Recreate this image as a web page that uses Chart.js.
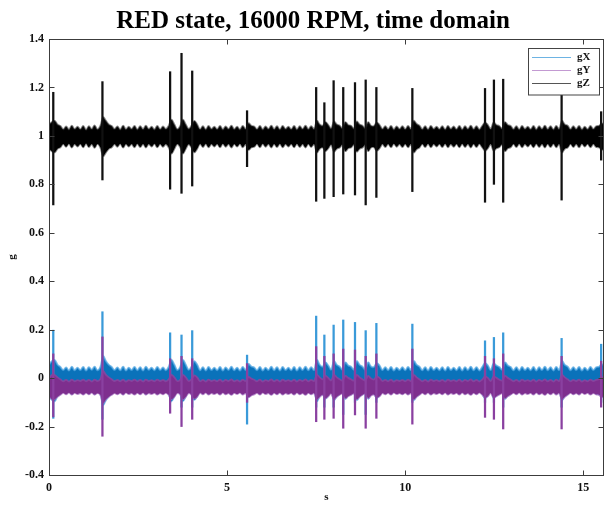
<!DOCTYPE html>
<html>
<head>
<meta charset="utf-8">
<script src="https://cdn.jsdelivr.net/npm/chart.js@4/dist/chart.umd.min.js"></script>
<style>
  html, body { margin: 0; padding: 0; background: #fff; }
  canvas { display: block; }
</style>
</head>
<body>
<canvas id="c" width="604" height="513"></canvas>
<script>
// ---------------- DATA ----------------
const chartTitle = 'RED state, 16000 RPM, time domain';
const xTitle = 's';
const yTitle = 'g';
const seriesNames = ['gX', 'gY', 'gZ'];

const xTickValues = [0, 5, 10, 15];
const xTickLabels = ['0', '5', '10', '15'];
const yTickValues = [-0.4, -0.2, 0, 0.2, 0.4, 0.6, 0.8, 1, 1.2, 1.4];
const yTickLabels = ['-0.4', '-0.2', '0', '0.2', '0.4', '0.6', '0.8', '1', '1.2', '1.4'];

// envelope (half-width) of the dense vibration band, one value every 0.08 s
const binStep = 0.08;
const gXCenter = -0.01;
const gYCenter = -0.037;
const gZCenter = 0.997;

const gZAmp = [
  0.05, 0.06, 0.065, 0.05, 0.044, 0.03, 0.042, 0.029, 0.045, 0.031,
  0.041, 0.03, 0.044, 0.028, 0.043, 0.031, 0.046, 0.03, 0.044, 0.08,
  0.065, 0.05, 0.044, 0.031, 0.042, 0.029, 0.045, 0.03, 0.041, 0.031,
  0.044, 0.029, 0.043, 0.03, 0.045, 0.031, 0.041, 0.029, 0.044, 0.03,
  0.042, 0.031, 0.045, 0.07, 0.05, 0.031, 0.043, 0.07, 0.05, 0.032,
  0.045, 0.065, 0.05, 0.03, 0.043, 0.029, 0.044, 0.031, 0.041, 0.03,
  0.044, 0.029, 0.042, 0.031, 0.045, 0.03, 0.041, 0.029, 0.044, 0.031,
  0.055, 0.045, 0.042, 0.03, 0.044, 0.029, 0.042, 0.031, 0.045, 0.03,
  0.043, 0.029, 0.044, 0.031, 0.041, 0.03, 0.044, 0.029, 0.043, 0.031,
  0.045, 0.03, 0.043, 0.031, 0.065, 0.05, 0.045, 0.06, 0.048, 0.033,
  0.062, 0.05, 0.045, 0.033, 0.06, 0.048, 0.045, 0.033, 0.062, 0.05,
  0.045, 0.033, 0.06, 0.045, 0.044, 0.058, 0.048, 0.031, 0.043, 0.03,
  0.044, 0.029, 0.042, 0.031, 0.043, 0.03, 0.044, 0.031, 0.065, 0.052,
  0.045, 0.03, 0.043, 0.029, 0.044, 0.031, 0.041, 0.03, 0.043, 0.029,
  0.044, 0.031, 0.042, 0.03, 0.044, 0.029, 0.043, 0.031, 0.045, 0.03,
  0.043, 0.029, 0.044, 0.058, 0.048, 0.031, 0.058, 0.048, 0.044, 0.033,
  0.06, 0.048, 0.044, 0.03, 0.043, 0.029, 0.044, 0.031, 0.041, 0.03,
  0.044, 0.029, 0.043, 0.031, 0.045, 0.03, 0.043, 0.029, 0.044, 0.031,
  0.065, 0.05, 0.045, 0.03, 0.043, 0.031, 0.044, 0.029, 0.041, 0.03,
  0.044, 0.031, 0.043, 0.045, 0.055, 0.045
];

const gXAmp = [
  0.065, 0.08, 0.085, 0.065, 0.056, 0.043, 0.054, 0.041, 0.057, 0.042,
  0.053, 0.043, 0.056, 0.041, 0.055, 0.044, 0.057, 0.042, 0.056, 0.1,
  0.08, 0.065, 0.056, 0.043, 0.054, 0.042, 0.057, 0.041, 0.053, 0.043,
  0.056, 0.042, 0.055, 0.041, 0.057, 0.044, 0.053, 0.042, 0.056, 0.043,
  0.054, 0.042, 0.057, 0.085, 0.065, 0.043, 0.055, 0.085, 0.065, 0.044,
  0.057, 0.08, 0.065, 0.042, 0.055, 0.041, 0.056, 0.043, 0.053, 0.042,
  0.056, 0.041, 0.054, 0.043, 0.057, 0.042, 0.053, 0.041, 0.056, 0.043,
  0.068, 0.058, 0.054, 0.042, 0.056, 0.041, 0.053, 0.043, 0.057, 0.042,
  0.055, 0.041, 0.056, 0.043, 0.053, 0.042, 0.056, 0.041, 0.055, 0.043,
  0.057, 0.042, 0.055, 0.043, 0.085, 0.065, 0.057, 0.075, 0.062, 0.045,
  0.08, 0.065, 0.057, 0.045, 0.075, 0.062, 0.057, 0.045, 0.08, 0.065,
  0.057, 0.045, 0.075, 0.058, 0.056, 0.072, 0.062, 0.043, 0.055, 0.042,
  0.056, 0.041, 0.053, 0.043, 0.055, 0.042, 0.056, 0.043, 0.08, 0.065,
  0.057, 0.042, 0.055, 0.041, 0.056, 0.043, 0.053, 0.042, 0.055, 0.041,
  0.056, 0.043, 0.053, 0.042, 0.056, 0.041, 0.055, 0.043, 0.057, 0.042,
  0.055, 0.041, 0.056, 0.072, 0.062, 0.043, 0.072, 0.062, 0.056, 0.045,
  0.075, 0.062, 0.056, 0.042, 0.055, 0.041, 0.056, 0.043, 0.053, 0.042,
  0.056, 0.041, 0.055, 0.043, 0.057, 0.042, 0.055, 0.041, 0.056, 0.043,
  0.08, 0.065, 0.057, 0.042, 0.055, 0.043, 0.056, 0.041, 0.053, 0.042,
  0.056, 0.043, 0.055, 0.057, 0.068, 0.056
];

const gYAmp = [
  0.035, 0.05, 0.05, 0.04, 0.032, 0.024, 0.03, 0.023, 0.031, 0.024,
  0.029, 0.025, 0.031, 0.024, 0.03, 0.023, 0.031, 0.025, 0.032, 0.065,
  0.05, 0.04, 0.032, 0.025, 0.03, 0.024, 0.031, 0.023, 0.029, 0.025,
  0.031, 0.024, 0.03, 0.023, 0.031, 0.025, 0.029, 0.024, 0.031, 0.025,
  0.03, 0.024, 0.032, 0.05, 0.04, 0.025, 0.03, 0.05, 0.04, 0.025,
  0.032, 0.048, 0.04, 0.024, 0.03, 0.023, 0.031, 0.025, 0.029, 0.024,
  0.031, 0.023, 0.03, 0.025, 0.032, 0.024, 0.029, 0.023, 0.031, 0.025,
  0.042, 0.035, 0.03, 0.024, 0.031, 0.023, 0.029, 0.025, 0.032, 0.024,
  0.03, 0.023, 0.031, 0.025, 0.029, 0.024, 0.031, 0.023, 0.03, 0.025,
  0.032, 0.024, 0.03, 0.025, 0.05, 0.04, 0.032, 0.046, 0.038, 0.027,
  0.05, 0.04, 0.032, 0.027, 0.046, 0.038, 0.032, 0.027, 0.05, 0.04,
  0.032, 0.027, 0.046, 0.035, 0.031, 0.043, 0.038, 0.025, 0.03, 0.024,
  0.031, 0.023, 0.029, 0.025, 0.03, 0.024, 0.031, 0.025, 0.05, 0.04,
  0.032, 0.024, 0.03, 0.023, 0.031, 0.025, 0.029, 0.024, 0.03, 0.023,
  0.031, 0.025, 0.029, 0.024, 0.031, 0.023, 0.03, 0.025, 0.032, 0.024,
  0.03, 0.023, 0.031, 0.043, 0.038, 0.025, 0.043, 0.038, 0.031, 0.027,
  0.046, 0.038, 0.031, 0.024, 0.03, 0.023, 0.031, 0.025, 0.029, 0.024,
  0.031, 0.023, 0.03, 0.025, 0.032, 0.024, 0.03, 0.023, 0.031, 0.025,
  0.05, 0.04, 0.032, 0.024, 0.03, 0.025, 0.031, 0.023, 0.029, 0.024,
  0.031, 0.025, 0.03, 0.032, 0.042, 0.031
];

// impact spikes: time (s) and extreme values per axis
const spikeTimes = [0.12, 1.50, 3.40, 3.72, 4.02, 5.56, 7.50, 7.73, 7.99, 8.26, 8.59, 8.89, 9.19, 10.20, 12.24, 12.49, 12.75, 14.39, 15.50];
const gZSpikeMax = [1.18, 1.224, 1.265, 1.341, 1.268, 1.104, 1.20, 1.137, 1.228, 1.20, 1.22, 1.231, 1.20, 1.196, 1.196, 1.231, 1.234, 1.169, 1.10];
const gZSpikeMin = [0.715, 0.818, 0.78, 0.763, 0.793, 0.873, 0.73, 0.742, 0.749, 0.76, 0.756, 0.715, 0.746, 0.77, 0.726, 0.80, 0.726, 0.735, 0.90];
const gXSpikeMax = [0.198, 0.274, 0.187, 0.178, 0.196, 0.095, 0.256, 0.178, 0.219, 0.24, 0.23, 0.196, 0.226, 0.223, 0.154, 0.168, 0.187, 0.164, 0.14];
const gXSpikeMin = [-0.166, -0.17, -0.10, -0.12, -0.12, -0.19, -0.12, -0.12, -0.12, -0.15, -0.10, -0.15, -0.10, -0.10, -0.10, -0.10, -0.12, -0.12, -0.10];
const gYSpikeMax = [0.10, 0.17, 0.08, 0.09, 0.08, 0.06, 0.13, 0.09, 0.10, 0.12, 0.116, 0.09, 0.10, 0.12, 0.09, 0.08, 0.10, 0.09, 0.07];
const gYSpikeMin = [-0.16, -0.24, -0.145, -0.20, -0.17, -0.10, -0.18, -0.17, -0.166, -0.207, -0.152, -0.207, -0.166, -0.19, -0.162, -0.17, -0.21, -0.21, -0.12];

// ---------------- BUILD ----------------
const FONT = 'Liberation Serif';
const band = (amp, center, sign) => amp.map((a, i) => ({ x: +(i * binStep).toFixed(2), y: center + sign * a }));
const spikes = (mn, mx) => spikeTimes.map((t, i) => ({ x: t, y: [mn[i], mx[i]] }));

const lineBase = { type: 'line', pointRadius: 0, borderWidth: 1.8, tension: 0.35 };
const barBase = { type: 'bar', barThickness: 1.6, grouped: false, borderWidth: 0 };

const datasets = [
  // gZ band
  Object.assign({}, lineBase, { label: 'gZ', data: band(gZAmp, gZCenter, 1), fill: '+1', backgroundColor: '#000', borderColor: 'rgba(40,40,40,0.55)', order: 6 }),
  Object.assign({}, lineBase, { label: 'gZ-lo', data: band(gZAmp, gZCenter, -1), fill: false, borderColor: 'rgba(40,40,40,0.55)', order: 6 }),
  // gY band
  Object.assign({}, lineBase, { label: 'gY', data: band(gYAmp, gYCenter, 1), fill: '+1', backgroundColor: '#7E2F8E', borderColor: 'rgba(140,70,160,0.8)', order: 1 }),
  Object.assign({}, lineBase, { label: 'gY-lo', data: band(gYAmp, gYCenter, -1), fill: false, borderColor: 'rgba(170,110,190,0.75)', order: 1 }),
  // gX band
  Object.assign({}, lineBase, { label: 'gX', data: band(gXAmp, gXCenter, 1), fill: '+1', backgroundColor: '#0a72ba', borderColor: 'rgba(80,165,225,0.75)', order: 3 }),
  Object.assign({}, lineBase, { label: 'gX-lo', data: band(gXAmp, gXCenter, -1), fill: false, borderColor: 'rgba(80,165,225,0.75)', order: 3 }),
  // spikes
  Object.assign({}, barBase, { label: 'gZ spikes', data: spikes(gZSpikeMin, gZSpikeMax), backgroundColor: '#111', order: 5 }),
  Object.assign({}, barBase, { label: 'gY spikes', data: spikes(gYSpikeMin, gYSpikeMax), backgroundColor: '#8a40a0', order: 0 }),
  Object.assign({}, barBase, { label: 'gX spikes', data: spikes(gXSpikeMin, gXSpikeMax), backgroundColor: '#3a9ad9', order: 2 })
];

const legendColors = ['#6db3e3', '#c39ad2', '#555'];

const framePlugin = {
  id: 'frame',
  afterDraw(chart) {
    const { ctx, chartArea: a, scales: { x, y } } = chart;
    ctx.save();
    const L = Math.round(a.left) + 0.5, R = Math.round(a.right) - 0.5;
    const T = Math.round(a.top) + 0.5, B = Math.round(a.bottom) + 0.5;
    ctx.strokeStyle = '#3c3c3c';
    ctx.lineWidth = 1;
    ctx.strokeRect(L, T, R - L, B - T);
    ctx.beginPath();
    xTickValues.forEach(v => {
      const p = Math.round(x.getPixelForValue(v)) + 0.5;
      ctx.moveTo(p, B); ctx.lineTo(p, B - 5);
      ctx.moveTo(p, T); ctx.lineTo(p, T + 5);
    });
    yTickValues.forEach(v => {
      const p = Math.round(y.getPixelForValue(v)) + 0.5;
      ctx.moveTo(L, p); ctx.lineTo(L + 5, p);
      ctx.moveTo(R, p); ctx.lineTo(R - 5, p);
    });
    ctx.stroke();

    // legend box
    const lx = 528.5, ly = 48.5, lw = 71, lh = 46.5;
    ctx.fillStyle = '#fff';
    ctx.fillRect(lx, ly, lw, lh);
    ctx.strokeStyle = '#444';
    ctx.strokeRect(lx, ly, lw, lh);
    ctx.font = 'bold 11px "' + FONT + '"';
    ctx.textBaseline = 'middle';
    ctx.textAlign = 'left';
    seriesNames.forEach((n, i) => {
      const yy = 57.5 + i * 13;
      ctx.strokeStyle = legendColors[i];
      ctx.lineWidth = 1;
      ctx.beginPath(); ctx.moveTo(532, yy); ctx.lineTo(571, yy); ctx.stroke();
      ctx.fillStyle = '#111';
      ctx.fillText(n, 577, yy);
    });

    // title
    ctx.fillStyle = '#000';
    ctx.font = 'bold 25px "' + FONT + '"';
    ctx.textAlign = 'center';
    ctx.textBaseline = 'middle';
    ctx.fillText(chartTitle, 313, 22);
    ctx.restore();
  }
};

const tickFont = { family: FONT, size: 12, weight: 'bold' };

new Chart(document.getElementById('c'), {
  type: 'line',
  data: { datasets },
  options: {
    responsive: false,
    devicePixelRatio: 1,
    animation: false,
    events: [],
    layout: { padding: { top: 39, right: 0, left: 0, bottom: 0 } },
    plugins: { legend: { display: false }, tooltip: { enabled: false }, title: { display: false } },
    scales: {
      x: {
        type: 'linear', min: 0, max: 15.58, offset: false,
        grid: { display: false, drawTicks: false },
        border: { display: false },
        afterBuildTicks: s => { s.ticks = xTickValues.map(v => ({ value: v })); },
        afterFit: s => { s.height = 38; },
        ticks: { font: tickFont, color: '#111', padding: 6, maxRotation: 0,
                 callback: (v, i) => xTickLabels[i] },
        title: { display: true, text: xTitle, font: { family: FONT, size: 11, weight: 'bold' }, color: '#111', padding: { top: 0, bottom: 9 } }
      },
      y: {
        type: 'linear', min: -0.4, max: 1.4,
        grid: { display: false, drawTicks: false },
        border: { display: false },
        afterBuildTicks: s => { s.ticks = yTickValues.map(v => ({ value: v })); },
        afterFit: s => { s.width = 49; },
        ticks: { font: tickFont, color: '#111', padding: 5,
                 callback: (v, i) => yTickLabels[i] },
        title: { display: true, text: yTitle, font: { family: FONT, size: 11, weight: 'bold' }, color: '#111', padding: { top: 6, bottom: 0 } }
      }
    }
  },
  plugins: [framePlugin]
});
</script>
</body>
</html>
